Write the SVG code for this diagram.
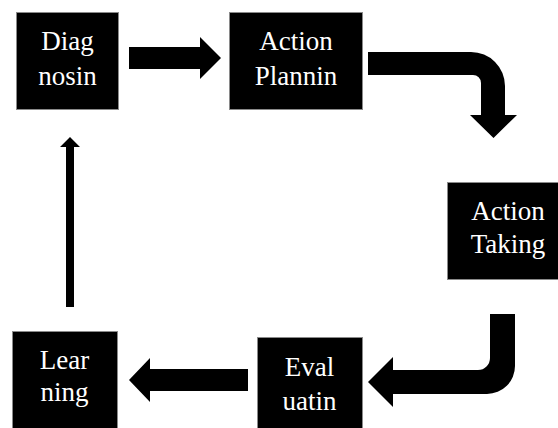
<svg xmlns="http://www.w3.org/2000/svg" width="558" height="428" viewBox="0 0 558 428">
<style>
.box{fill:#000;stroke:#8a8a8a;stroke-width:1}
.lbl{fill:#fff;font-family:'Liberation Serif','Times New Roman',serif;font-size:27px;font-weight:400;text-anchor:middle}
.arr{fill:#000}
</style>
<rect width="558" height="428" fill="#fff"/>
<g id="diagnosin">
<rect class="box" x="16.5" y="12.5" width="102" height="97"/>
<text class="lbl" x="67.5" y="50">Diag</text>
<text class="lbl" x="67.5" y="85">nosin</text>
</g>
<g id="action-planning">
<rect class="box" x="229.5" y="12.5" width="133" height="97"/>
<text class="lbl" x="296" y="50">Action</text>
<text class="lbl" x="296" y="85">Plannin</text>
</g>
<g id="action-taking">
<rect class="box" x="447.5" y="182.5" width="112" height="97"/>
<text class="lbl" x="508" y="220">Action</text>
<text class="lbl" x="508" y="253">Taking</text>
</g>
<g id="evaluatin">
<rect class="box" x="257.5" y="337.5" width="105" height="92"/>
<text class="lbl" x="309.5" y="376">Eval</text>
<text class="lbl" x="309.5" y="410">uatin</text>
</g>
<g id="learning">
<rect class="box" x="12.5" y="331.5" width="105" height="98"/>
<text class="lbl" x="64.5" y="369">Lear</text>
<text class="lbl" x="64.5" y="401">ning</text>
</g>
<g id="connectors">
<path class="arr" d="M129,47 H200 V37 L221,58 L200,79 V69 H129 Z"/>
<path class="arr" d="M368,52 H471 A34,34 0 0 1 505,86 V115 H517 L493.5,138 L470,115 H481 V83 A8,8 0 0 0 473,75 H368 Z"/>
<path class="arr" d="M515,314 V366 A28,28 0 0 1 487,394 H393 V407 L368,382 L393,357 V370 H478 A12,12 0 0 0 490,358 V314 Z"/>
<path class="arr" d="M248,369 H150 V358 L129,380 L150,402 V391 H248 Z"/>
<path class="arr" d="M66,307 V147 H60 L70,137 L80,147 H74 V307 Z"/>
</g>
</svg>
